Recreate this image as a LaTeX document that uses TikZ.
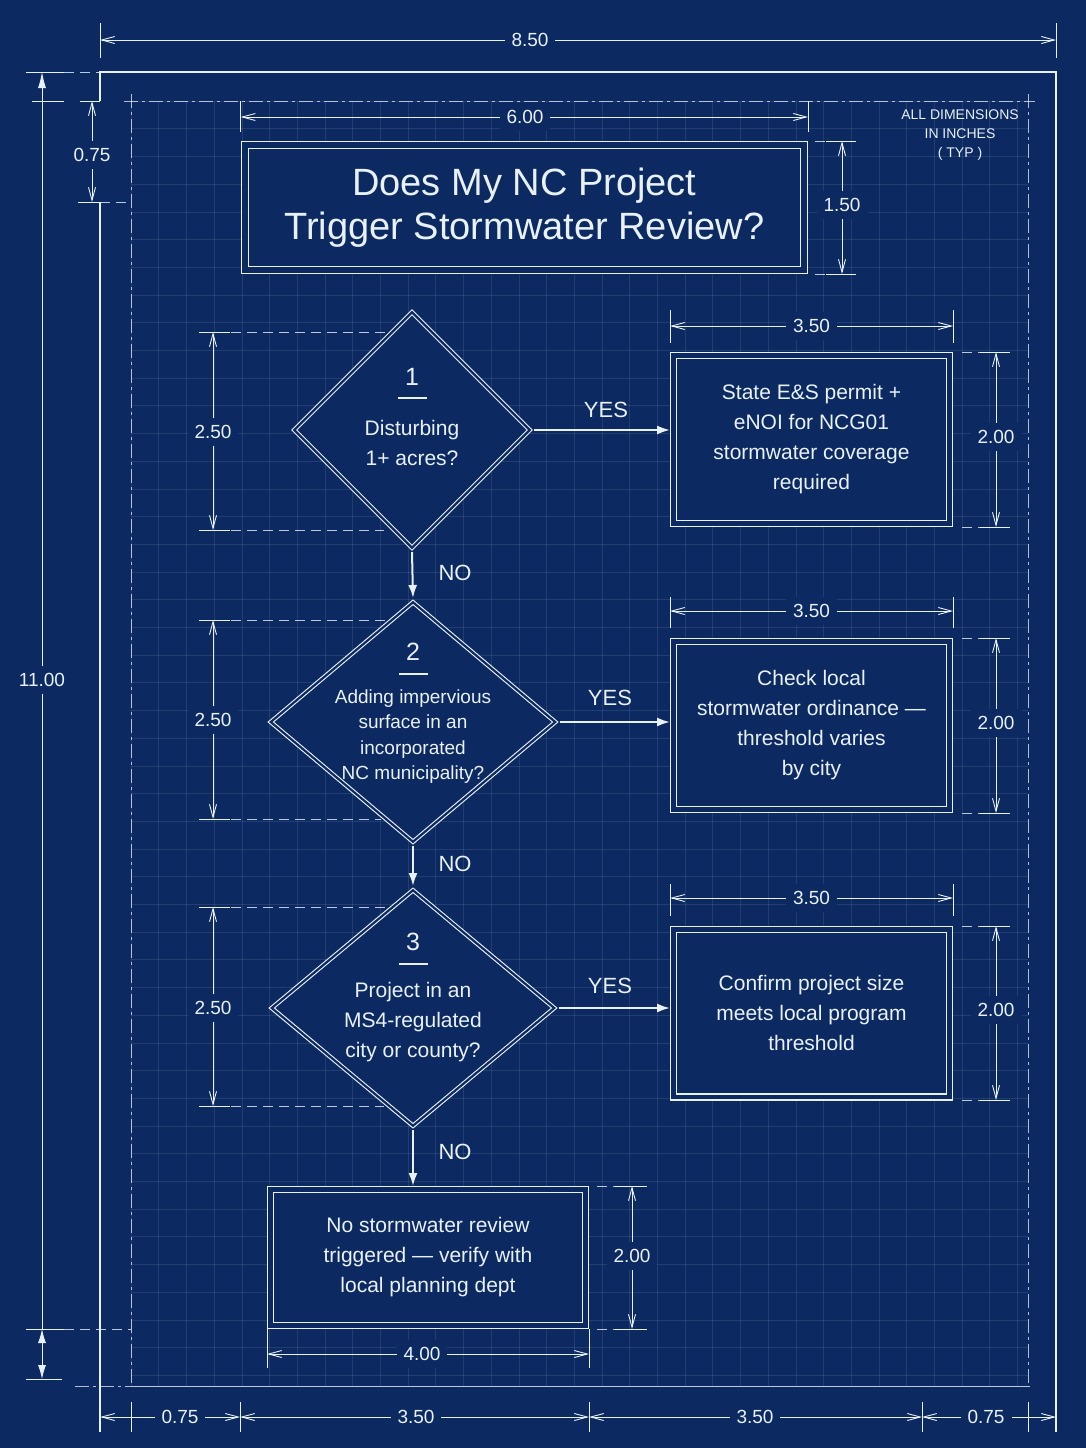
\documentclass[tikz,border=0pt]{standalone}
\usepackage{fontspec}
\setmainfont{Liberation Sans}
\usetikzlibrary{arrows.meta,shapes.geometric}
\definecolor{paper}{RGB}{12,42,97}
\definecolor{chalk}{RGB}{232,240,250}

\begin{document}
\begin{tikzpicture}[x=1pt,y=-1pt,
  sheet/.style={chalk,line width=1.6pt},
  margin/.style={chalk,line width=0.8pt,opacity=0.75,dash pattern=on 14pt off 4pt on 3pt off 4pt},
  gridline/.style={chalk,line width=0.5pt,opacity=0.1},
  dimline/.style={chalk,line width=0.9pt,{Straight Barb[length=13pt,width=7pt]}-{Straight Barb[length=13pt,width=7pt]}},
  dimtick/.style={chalk,line width=0.9pt},
  dimext/.style={chalk,line width=0.8pt,opacity=0.8,dash pattern=on 10pt off 6pt},
  dimlabel/.style={text=chalk,fill=paper,inner sep=7pt,font=\fontsize{19}{19}\selectfont},
  leader/.style={chalk,line width=0.9pt,-{Latex[length=16pt,width=8pt]}},
  titlebox/.style={draw=chalk,fill=paper,line width=1.4pt,double=paper,double distance=5.6pt,
    outer sep=4.2pt,minimum width=559pt,minimum height=125pt,align=center,text=chalk,
    font=\fontsize{38}{44}\selectfont},
  result/.style={draw=chalk,fill=paper,line width=1.3pt,double=paper,double distance=4.7pt,
    outer sep=3.65pt,minimum width=275.7pt,minimum height=167.7pt,align=center,text=chalk,
    font=\fontsize{21}{30}\selectfont},
  decision/.style={diamond,draw=chalk,fill=paper,line width=1.1pt,double=paper,
    double distance=2.2pt,inner sep=0pt,outer sep=3pt},
  stepnum/.style={text=chalk,font=\fontsize{25}{25}\selectfont},
  stepbar/.style={chalk,line width=1.3pt},
  question/.style={text=chalk,align=center,font=\fontsize{21}{30}\selectfont},
  answer/.style={text=chalk,font=\fontsize{22}{22}\selectfont},
  note/.style={text=chalk,align=center,font=\fontsize{14}{19}\selectfont},
  flow/.style={chalk,line width=2pt,-{Latex[length=13pt,width=9pt]}}]

\useasboundingbox (0,0) rectangle (1086,1448);
\fill[paper] (0,0) rectangle (1086,1448);

% grid
\foreach \i in {0,...,32}
  \draw[gridline] (131+\i*27.7,101) -- (131+\i*27.7,1386);
\foreach \j in {0,...,46}
  \draw[gridline] (131,101+\j*27.7) -- (1028,101+\j*27.7);

% sheet and margin
\draw[sheet] (100,101) -- (100,72) -- (1056,72) -- (1056,1432);
\draw[sheet] (100,202) -- (100,1432);
\draw[margin] (131,94) -- (131,1386);
\draw[margin] (124,101) -- (1035,101);
\draw[margin] (1028,94) -- (1028,1386);
\draw[margin] (75,1386) -- (131,1386);
\draw[chalk,line width=0.8pt,opacity=0.8] (131,1386) -- (1030,1386);

% left dimensions
\draw[dimext] (64,72) -- (100,72);
\draw[dimext] (100,202) -- (131,202);
\draw[dimext] (64,1329) -- (131,1329);
\draw[dimtick] (26,72) -- (64,72) (32,101) -- (64,101) (26,1329) -- (64,1329) (26,1379) -- (62,1379);
\draw[dimtick] (80,101) -- (100,101) (78,202) -- (100,202);
\draw[leader] (42,1329) -- (42,72);
\node[dimlabel] (h1100) at (42,680) {11.00};
\draw[chalk,line width=0.9pt,{Latex[length=14pt,width=8pt]}-{Latex[length=14pt,width=8pt]}] (42,1329) -- (42,1379);
\draw[dimline] (92,101) -- (92,202);
\node[dimlabel] (h075) at (92,155) {0.75};

% top dimensions
\draw[dimtick] (100,23) -- (100,58) (1056,23) -- (1056,58);
\draw[dimline] (100,40) -- (1056,40);
\node[dimlabel] (w850) at (530,40) {8.50};
\draw[dimtick] (240.6,101) -- (240.6,132) (808,101) -- (808,132);
\draw[dimline] (240.6,117) -- (808,117);
\node[dimlabel] (w600) at (525,117) {6.00};
\node[note] (units) at (960,135) {ALL DIMENSIONS\\IN INCHES\\( TYP )};

% title
\node[titlebox] (title) at (524.3,207.4) {Does My NC Project\\Trigger Stormwater Review?};
\draw[dimext] (815,141) -- (856,141) (815,274) -- (856,274);
\draw[dimtick] (826,141) -- (856,141) (826,274) -- (856,274);
\draw[dimline] (842,141) -- (842,274);
\node[dimlabel] (h150) at (842,205) {1.50};

% decisions
\node[decision,minimum width=238pt,minimum height=238pt] (d1) at (412,430) {};
\node[decision,minimum width=287pt,minimum height=242pt] (d2) at (413,722) {};
\node[decision,minimum width=285pt,minimum height=238pt] (d3) at (413,1008) {};

\node[stepnum] (n1) at (412,377) {1};
\draw[stepbar] (398,398) -- (427,398);
\node[question] (q1) at (412,442.5) {Disturbing\\1+ acres?};
\node[stepnum] (n2) at (413,652) {2};
\draw[stepbar] (399,674) -- (428,674);
\node[question,font=\fontsize{19}{25.5}\selectfont] (q2) at (413,736.5)
  {Adding impervious\\surface in an\\incorporated\\NC municipality?};
\node[stepnum] (n3) at (413,942) {3};
\draw[stepbar] (399,964) -- (428,964);
\node[question] (q3) at (413,1022) {Project in an\\MS4-regulated\\city or county?};

% decision heights
\draw[dimext] (199,332) -- (388,332) (199,530) -- (384,530);
\draw[dimtick] (199,332) -- (230,332) (199,530) -- (230,530);
\draw[dimline] (213,332) -- (213,530);
\node[dimlabel] (h250a) at (213,432) {2.50};
\draw[dimext] (199,620) -- (387,620) (199,819) -- (381,819);
\draw[dimtick] (199,620) -- (230,620) (199,819) -- (230,819);
\draw[dimline] (213,620) -- (213,819);
\node[dimlabel] (h250b) at (213,720) {2.50};
\draw[dimext] (199,907) -- (388,907) (199,1106) -- (384,1106);
\draw[dimtick] (199,907) -- (230,907) (199,1106) -- (230,1106);
\draw[dimline] (213,907) -- (213,1106);
\node[dimlabel] (h250c) at (213,1008) {2.50};

% results
\node[result] (b1) at (811.5,439.5) {State E\&S permit +\\eNOI for NCG01\\stormwater coverage\\required};
\node[result] (b2) at (811.5,725.5) {Check local\\stormwater ordinance ---\\threshold varies\\by city};
\node[result] (b3) at (811.5,1013) {Confirm project size\\meets local program\\threshold};
\node[result,minimum width=314.7pt,minimum height=135.7pt] (b4) at (428,1257.5)
  {No stormwater review\\triggered --- verify with\\local planning dept};

% result widths and heights
\draw[dimtick] (670,310) -- (670,343) (953,310) -- (953,343);
\draw[dimline] (670,326) -- (953,326);
\node[dimlabel] (w350a) at (811.5,326) {3.50};
\draw[dimext] (962,352) -- (1010,352) (962,527) -- (1010,527);
\draw[dimtick] (980,352) -- (1010,352) (980,527) -- (1010,527);
\draw[dimline] (996,352) -- (996,527);
\node[dimlabel] (h200a) at (996,437) {2.00};

\draw[dimtick] (670,597) -- (670,628) (953,597) -- (953,628);
\draw[dimline] (670,611) -- (953,611);
\node[dimlabel] (w350b) at (811.5,611) {3.50};
\draw[dimext] (962,638) -- (1010,638) (962,813) -- (1010,813);
\draw[dimtick] (980,638) -- (1010,638) (980,813) -- (1010,813);
\draw[dimline] (996,638) -- (996,813);
\node[dimlabel] (h200b) at (996,723) {2.00};

\draw[dimtick] (670,884) -- (670,916) (953,884) -- (953,916);
\draw[dimline] (670,898) -- (953,898);
\node[dimlabel] (w350c) at (811.5,898) {3.50};
\draw[dimext] (962,926) -- (1010,926) (962,1100) -- (1010,1100);
\draw[dimtick] (980,926) -- (1010,926) (980,1100) -- (1010,1100);
\draw[dimline] (996,926) -- (996,1100);
\node[dimlabel] (h200c) at (996,1010) {2.00};

\draw[dimext] (597,1186) -- (647,1186) (597,1329) -- (647,1329);
\draw[dimtick] (615,1186) -- (647,1186) (615,1329) -- (647,1329);
\draw[dimline] (632,1186) -- (632,1329);
\node[dimlabel] (h200d) at (632,1256) {2.00};
\draw[dimtick] (267,1329) -- (267,1368) (589,1329) -- (589,1368);
\draw[dimline] (267,1354) -- (589,1354);
\node[dimlabel] (w400) at (422,1354) {4.00};

% bottom chain
\draw[dimtick] (131,1402) -- (131,1432) (240,1402) -- (240,1432) (589,1402) -- (589,1432)
  (922,1402) -- (922,1432) (1028,1402) -- (1028,1432);
\draw[dimline] (100,1417) -- (240,1417);
\draw[dimline] (240,1417) -- (589,1417);
\draw[dimline] (589,1417) -- (922,1417);
\draw[dimline] (922,1417) -- (1056,1417);
\node[dimlabel] (w075a) at (180,1417) {0.75};
\node[dimlabel] (w350d) at (416,1417) {3.50};
\node[dimlabel] (w350e) at (755,1417) {3.50};
\node[dimlabel] (w075b) at (986,1417) {0.75};

% flow
\draw[flow] (d1.east) -- (d1.east -| b1.west);
\draw[flow] (d1.south) -- (d2.north);
\draw[flow] (d2.east) -- (d2.east -| b2.west);
\draw[flow] (d2.south) -- (d3.north);
\draw[flow] (d3.east) -- (d3.east -| b3.west);
\draw[flow] (d3.south) -- (d3.south |- b4.north);

\node[answer] (yes1) at (606,410) {YES};
\node[answer] (yes2) at (610,698) {YES};
\node[answer] (yes3) at (610,986) {YES};
\node[answer] (no1) at (455,573) {NO};
\node[answer] (no2) at (455,864) {NO};
\node[answer] (no3) at (455,1152) {NO};
\end{tikzpicture}
\end{document}
